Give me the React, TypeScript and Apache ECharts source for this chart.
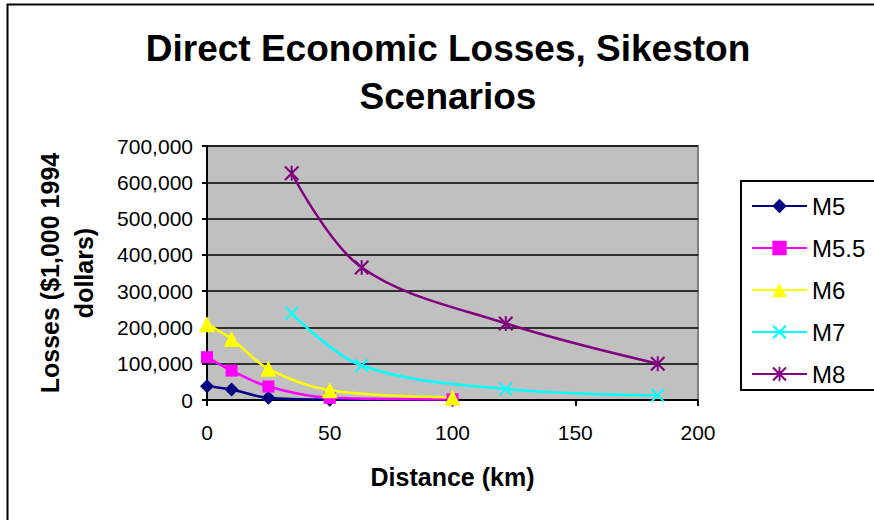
import React, { useEffect, useRef } from "react";
import * as echarts from "echarts";

// Distances (km) used by the smaller-magnitude scenarios
const distShort = [0, 10, 25, 50, 100];
// Distances (km) used by the M7 and M8 scenarios
const distLong = [34.5, 63, 121.7, 183.6];

// Losses in $1,000 (1994 dollars)
const lossM5 = [38000, 29000, 6000, 1000, 300];
const lossM55 = [118000, 81000, 37000, 6000, 2000];
const lossM6 = [209000, 168000, 86000, 27000, 7000];
const lossM7 = [239000, 95000, 30000, 13000];
const lossM8 = [625000, 365000, 211000, 100000];

const seriesNames = ["M5", "M5.5", "M6", "M7", "M8"];
const xTicks = { min: 0, max: 200, interval: 50 };
const yTicks = { min: 0, max: 700000, interval: 100000 };

const FONT = "'Liberation Sans', Arial, sans-serif";

// Excel-style marker glyphs built from thin filled bars
const crossPath =
  "path://M0,2 L2,0 L20,18 L18,20 Z M18,0 L20,2 L2,20 L0,18 Z";
const starPath =
  "path://M8.7,0 L11.3,0 L11.3,20 L8.7,20 Z M0,2 L2,0 L20,18 L18,20 Z M18,0 L20,2 L2,20 L0,18 Z";

const pairs = (xs: number[], ys: number[]) => xs.map((x, i) => [x, ys[i]]);

export default function App() {
  const ref = useRef<HTMLDivElement>(null);

  useEffect(() => {
    if (!ref.current) return;
    const chart = echarts.init(ref.current, null, { renderer: "svg" });

    const lineSeries = (
      name: string,
      data: number[][],
      color: string,
      symbol: string,
      symbolSize: number
    ) => ({
      name,
      type: "line",
      data,
      smooth: 0.35,
      symbol,
      symbolSize,
      showAllSymbol: true,
      lineStyle: { color, width: 2.5 },
      itemStyle: { color, borderWidth: 0 },
      emphasis: { disabled: true },
    });

    chart.setOption({
      animation: false,
      backgroundColor: "#ffffff",
      textStyle: { fontFamily: FONT },
      grid: {
        left: 207,
        top: 146,
        right: 176,
        bottom: 120,
        show: true,
        backgroundColor: "#C0C0C0",
        borderColor: "#808080",
        borderWidth: 2,
        containLabel: false,
      },
      xAxis: {
        type: "value",
        min: xTicks.min,
        max: xTicks.max,
        interval: xTicks.interval,
        name: "Distance (km)",
        nameLocation: "middle",
        nameGap: 64,
        nameTextStyle: {
          fontFamily: FONT,
          fontSize: 25,
          fontWeight: "bold",
          color: "#000",
        },
        axisLine: { show: true, lineStyle: { color: "#000", width: 2 } },
        axisTick: { show: true, length: 6, lineStyle: { color: "#000", width: 2 } },
        axisLabel: {
          margin: 22,
          fontFamily: FONT,
          fontSize: 21,
          color: "#000",
        },
        splitLine: { show: false },
      },
      yAxis: {
        type: "value",
        min: yTicks.min,
        max: yTicks.max,
        interval: yTicks.interval,
        name: "Losses ($1,000 1994\ndollars)",
        nameLocation: "middle",
        nameRotate: 90,
        nameGap: 106,
        nameTextStyle: {
          fontFamily: FONT,
          fontSize: 25,
          fontWeight: "bold",
          color: "#000",
          lineHeight: 34,
        },
        axisLine: { show: true, lineStyle: { color: "#000", width: 2 } },
        axisTick: { show: true, length: 5, lineStyle: { color: "#000", width: 2 } },
        axisLabel: {
          margin: 14,
          fontFamily: FONT,
          fontSize: 21,
          color: "#000",
          formatter: (v: number) => v.toLocaleString("en-US"),
        },
        splitLine: { show: true, lineStyle: { color: "#000", width: 1.5 } },
      },
      legend: {
        orient: "vertical",
        left: 741,
        top: 181,
        padding: [13, 10, 4, 10],
        itemGap: 18,
        itemWidth: 55,
        itemHeight: 18,
        backgroundColor: "#ffffff",
        borderColor: "#000",
        borderWidth: 2,
        borderRadius: 0,
        data: seriesNames,
        textStyle: {
          fontFamily: FONT,
          fontSize: 24,
          lineHeight: 24,
          color: "#000",
        },
      },
      graphic: [
        {
          type: "rect",
          z: -10,
          shape: { x: 7.5, y: 4.5, width: 900, height: 600 },
          style: { fill: "none", stroke: "#000", lineWidth: 2 },
        },
        {
          type: "text",
          x: 448,
          y: 24,
          style: {
            text: "Direct Economic Losses, Sikeston\nScenarios",
            fontFamily: FONT,
            fontSize: 37,
            fontWeight: "bold",
            lineHeight: 48,
            align: "center",
            verticalAlign: "top",
            fill: "#000",
          },
        },
      ],
      series: [
        lineSeries(seriesNames[0], pairs(distShort, lossM5), "#000080", "diamond", 14),
        lineSeries(seriesNames[1], pairs(distShort, lossM55), "#FF00FF", "rect", 12),
        lineSeries(seriesNames[2], pairs(distShort, lossM6), "#FFFF00", "triangle", 16),
        lineSeries(seriesNames[3], pairs(distLong, lossM7), "#00FFFF", crossPath, 14),
        lineSeries(seriesNames[4], pairs(distLong, lossM8), "#800080", starPath, 15),
      ],
    });

    return () => chart.dispose();
  }, []);

  return (
    <div
      ref={ref}
      style={{ position: "absolute", left: 0, top: 0, width: 874, height: 520 }}
    />
  );
}
